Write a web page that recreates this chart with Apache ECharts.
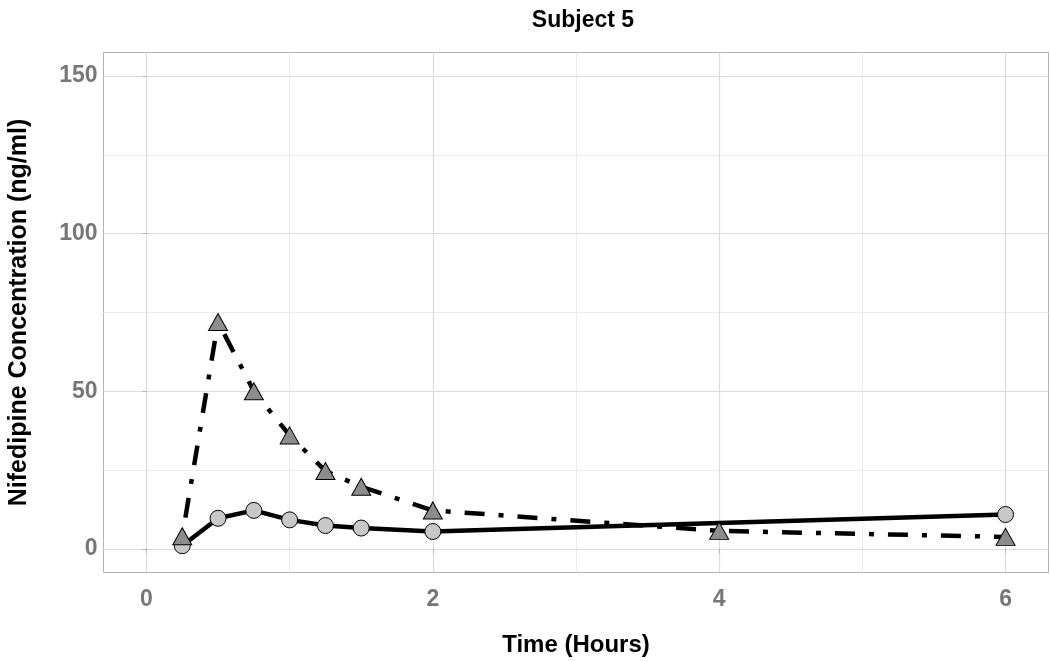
<!DOCTYPE html>
<html>
<head>
<meta charset="utf-8">
<script src="https://cdn.jsdelivr.net/npm/echarts@6/dist/echarts.min.js"></script>
<style>
  html, body { margin: 0; padding: 0; background: #fff; }
  #main { width: 1050px; height: 661px; }
</style>
</head>
<body>
<div id="main"></div>
<script>
// data
var circleTimes = [0.25, 0.5, 0.75, 1, 1.25, 1.5, 2, 6];
var circleConc  = [1.0, 9.7, 12.2, 9.2, 7.4, 6.6, 5.5, 10.9];
var triTimes = [0.25, 0.5, 0.75, 1, 1.25, 1.5, 2, 4, 6];
var triConc  = [4.0, 72, 50, 36, 24.7, 19.7, 12.2, 5.7, 3.8];

// axis ticks
var xMajor = [0, 2, 4, 6];
var xMinor = [1, 3, 5];
var yMajor = [0, 50, 100, 150];
var yMinor = [25, 75, 125];

function pairs(xs, ys) {
  return xs.map(function (x, i) { return [x, ys[i]]; });
}

var font = 'Liberation Sans, Arial, sans-serif';

// grid lines drawn as markLines so they span the whole panel
var gridLines = [];
xMinor.forEach(function (v) { gridLines.push({ xAxis: v, lineStyle: { color: '#ececec', width: 1 } }); });
yMinor.forEach(function (v) { gridLines.push({ yAxis: v, lineStyle: { color: '#ececec', width: 1 } }); });
xMajor.forEach(function (v) { gridLines.push({ xAxis: v, lineStyle: { color: '#dcdcdc', width: 1.2 } }); });
yMajor.forEach(function (v) { gridLines.push({ yAxis: v, lineStyle: { color: '#dcdcdc', width: 1.2 } }); });

var chart = echarts.init(document.getElementById('main'));
var option = {
  animation: false,
  backgroundColor: '#fff',
  title: {
    text: 'Subject 5',
    left: 578, top: 4,
    textAlign: 'center',
    textStyle: { fontFamily: font, fontWeight: 'bold', fontSize: 23, color: '#000' }
  },
  grid: {
    left: 103.5, right: 1.5, top: 52.5, bottom: 88.5,
    show: true, borderColor: '#b3b3b3', borderWidth: 1,
    containLabel: false, outerBoundsMode: 'none'
  },
  xAxis: {
    type: 'value', min: -0.3, max: 6.3,
    name: 'Time (Hours)', nameLocation: 'middle', nameGap: 61,
    nameTextStyle: { fontFamily: font, fontWeight: 'bold', fontSize: 24, color: '#000' },
    axisLine: { show: false },
    axisTick: { show: true, customValues: xMajor, length: 4, lineStyle: { color: '#b3b3b3' } },
    axisLabel: { customValues: xMajor, margin: 16, fontFamily: font, fontWeight: 'bold', fontSize: 23, color: '#777777' },
    splitLine: { show: false }
  },
  yAxis: {
    type: 'value', min: -7.5, max: 157.5,
    name: 'Nifedipine Concentration (ng/ml)', nameLocation: 'middle', nameGap: 72,
    nameTextStyle: { fontFamily: font, fontWeight: 'bold', fontSize: 25, color: '#000' },
    axisLine: { show: false },
    axisTick: { show: true, customValues: yMajor, length: 4, lineStyle: { color: '#b3b3b3' } },
    axisLabel: { customValues: yMajor, margin: 6, fontFamily: font, fontWeight: 'bold', fontSize: 23, color: '#777777' },
    splitLine: { show: false }
  },
  series: [
    {
      type: 'line', name: 'gridlines', data: [], silent: true,
      markLine: { silent: true, symbol: 'none', z: 0, label: { show: false }, lineStyle: { type: 'solid' }, data: gridLines }
    },
    {
      type: 'line', data: pairs(circleTimes, circleConc), showSymbol: false, z: 2,
      lineStyle: { color: '#000', width: 4.5, type: 'solid' }
    },
    {
      type: 'line', data: pairs(triTimes, triConc), showSymbol: false, z: 2,
      lineStyle: { color: '#000', width: 4.5, type: [5, 14, 20, 14] }
    },
    {
      type: 'scatter', data: pairs(circleTimes, circleConc), z: 3,
      symbol: 'circle', symbolSize: 16,
      itemStyle: { color: '#c8c8c8', borderColor: '#000', borderWidth: 1, opacity: 1 }
    },
    {
      type: 'scatter', data: pairs(triTimes, triConc), z: 4,
      symbol: 'triangle', symbolSize: [19, 17],
      itemStyle: { color: '#8c8c8c', borderColor: '#000', borderWidth: 1, opacity: 1 }
    }
  ]
};
chart.setOption(option);
</script>
</body>
</html>
